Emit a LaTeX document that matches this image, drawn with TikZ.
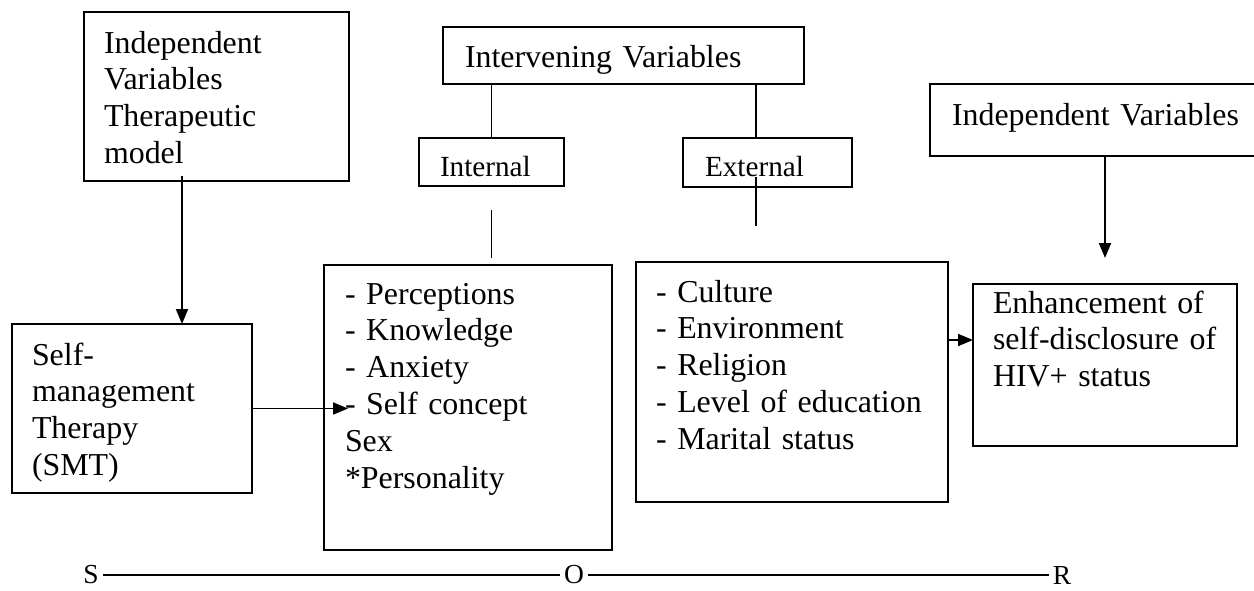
\documentclass[tikz,border=0pt]{standalone}
\usepackage{fontspec}
\setmainfont{Liberation Serif}
\usetikzlibrary{arrows.meta}

\tikzset{
  varbox/.style={draw, line width=1.9pt, anchor=north west, align=left,
    inner ysep=0pt, outer sep=0pt, font=\fontsize{31.9}{36.8}\selectfont},
  subbox/.style={varbox, font=\fontsize{29.2}{33.6}\selectfont},
  sor/.style={inner xsep=4pt, inner ysep=0pt, font=\fontsize{27.5}{30}\selectfont},
  link/.style={line width=1.9pt},
  arr/.style={line width=1.9pt, -{Triangle[length=15pt,width=12pt]}}
}

\begin{document}
\begin{tikzpicture}[x=1pt,y=-1pt]
\useasboundingbox (0,0) rectangle (1254,590);

\node[varbox, inner xsep=20pt, text width=225pt, text height=41pt, text depth=128pt] (indep) at (84,12)
  {Independent\\Variables\\Therapeutic\\model};
\node[varbox, inner xsep=20pt, text width=200pt, text height=41pt, text depth=128pt] (smt) at (12,324)
  {Self-\\management\\Therapy\\(SMT)};
\node[varbox, inner xsep=22pt, text width=317pt, text height=40pt, text depth=17pt] (interv) at (443,27)
  {Intervening Variables};
\node[subbox, inner xsep=21pt, text width=103pt, text height=38pt, text depth=10pt] (internal) at (419,138)
  {Internal};
\node[subbox, inner xsep=22pt, text width=125pt, text height=38pt, text depth=11pt] (external) at (683,138)
  {External};
\node[varbox, inner xsep=21pt, text width=246pt, text height=39pt, text depth=246pt] (items) at (324,265)
  {- Perceptions\\- Knowledge\\- Anxiety\\- Self concept\\Sex\\{}*Personality};
\node[varbox, inner xsep=20pt, text width=272pt, text height=40pt, text depth=200pt] (extitems) at (636,262)
  {- Culture\\- Environment\\- Religion\\- Level of education\\- Marital status};
\node[varbox, inner xsep=20pt, text width=224pt, text height=29pt, text depth=133pt] (enh) at (973,284)
  {Enhancement of\\self-disclosure of\\HIV+ status};
\node[varbox, inner xsep=22pt, text width=290pt, text height=41pt, text depth=31pt] (indepright) at (930,84)
  {Independent Variables};

\draw[arr] ([xshift=-34.5pt,yshift=5pt]indep.south) -- ([xshift=-34.5pt]indep.south |- smt.north);
\draw[arr] (smt.east) -- ([xshift=24pt]smt.east -| items.west);
\draw[link] (internal.north |- interv.south) -- (internal.north);
\draw[link] ([xshift=-11.5pt]external.north |- interv.south) -- ([xshift=-11.5pt]external.north);
\draw[link] ([yshift=-24pt]internal.south) -- ++(0,48);
\draw[link] ([xshift=-11.5pt,yshift=10pt]external.south) -- ++(0,49);
\draw[arr] ([yshift=42pt]extitems.east) -- ([yshift=42pt]extitems.east -| enh.west);
\draw[arr] (enh.north |- indepright.south) -- ([yshift=26pt]enh.north);

\node[sor] (s) at (91,575) {S};
\node[sor] (o) at (574,575) {O};
\node[sor] (r) at (1062,575) {R};
\draw[link] (s) -- (o);
\draw[link] (o) -- (r);
\end{tikzpicture}
\end{document}
